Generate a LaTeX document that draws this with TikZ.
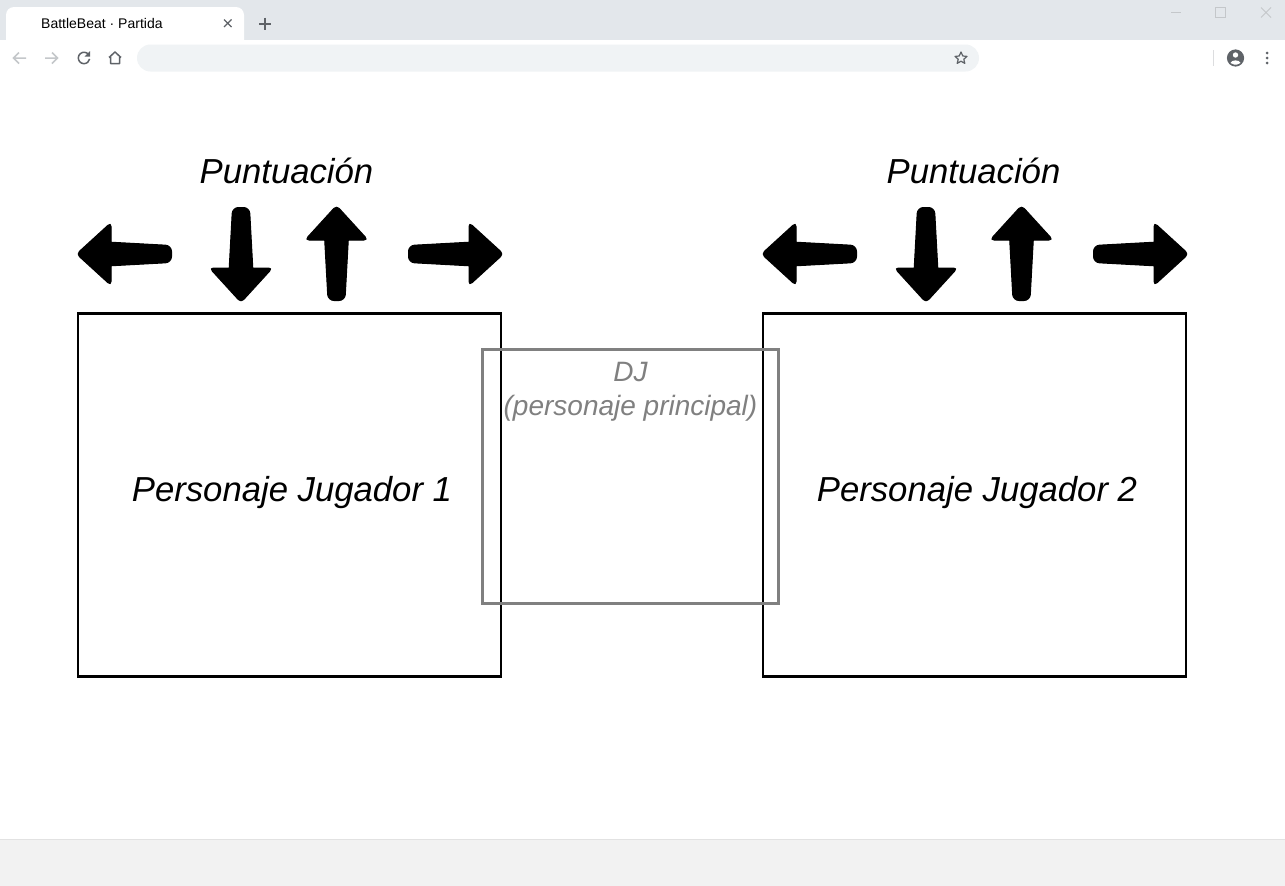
\documentclass[tikz,border=0pt]{standalone}
\usepackage{fontspec}
\setmainfont{Liberation Sans}
\definecolor{chromebg}{HTML}{E3E7EB}
\definecolor{addrbg}{HTML}{F0F3F5}
\definecolor{iconc}{HTML}{5F6368}
\definecolor{iconl}{HTML}{C4C7CA}
\definecolor{statusbg}{HTML}{F2F2F2}
\definecolor{statusln}{HTML}{E2E2E2}
\definecolor{djgray}{HTML}{808080}
\tikzset{
  playerbox/.style={draw=black,line width=2.7pt,fill=none,minimum width=423pt,minimum height=363pt,inner sep=0pt,outer sep=0pt},
  djbox/.style={draw=djgray,line width=2.3pt,fill=none,minimum width=296pt,minimum height=254pt,inner sep=0pt,outer sep=0pt},
  biglabel/.style={font=\fontsize{34.7}{40}\selectfont\itshape,text=black,inner sep=0pt},
  djlabel/.style={font=\fontsize{28}{34}\selectfont\itshape,text=djgray,inner sep=0pt,align=center},
  icon/.style={draw=iconc,line width=1.5pt,fill=none},
  iconlight/.style={draw=iconl,line width=1.5pt,fill=none},
  beatarrow/.pic={
    \fill[black,draw=black,line width=1pt,rounded corners=4pt]
      (-1.5,0) -- (33,-31.5) -- (33,31.5) -- cycle;
    \fill[black,draw=black,line width=1pt,rounded corners=6pt]
      (20,-12.5) -- (93.5,-8.5) -- (93.5,8.5) -- (20,12.5) -- cycle;
  }
}
\begin{document}
\begin{tikzpicture}[x=1pt,y=-1pt]
\useasboundingbox (0,0) rectangle (1285,886);
\fill[white] (0,0) rectangle (1285,886);
% browser frame
\fill[chromebg] (0,0) rectangle (1285,40);
\fill[white,rounded corners=8pt] (6,7) -- (244,7) -- (244,48) -- (6,48) -- cycle;
\fill[white] (0,40) rectangle (1285,74);
\fill[addrbg,rounded corners=13.5pt] (137,44.5) rectangle (979,71.5);
\fill[statusbg] (0,839) rectangle (1285,886);
\draw[statusln,line width=1pt] (0,839) -- (1285,839);
\node[font=\fontsize{14}{16}\selectfont,anchor=west,inner sep=0pt,text=black] (tabtitle) at (41,23.5) {BattleBeat · Partida};
% tab close and new tab
\draw[icon,line width=1.2pt] (224,19.5) -- (231.5,27) (231.5,19.5) -- (224,27);
\draw[icon,line width=2pt] (265,17.5) -- (265,29.5) (259,23.5) -- (271,23.5);
% window buttons
\draw[draw=iconl,line width=1pt] (1171,12.5) -- (1181,12.5);
\draw[draw=iconl,line width=1pt] (1215.5,7.5) rectangle (1225.5,17.5);
\draw[draw=iconl,line width=1pt] (1261,7.5) -- (1271,17.5) (1271,7.5) -- (1261,17.5);
% toolbar icons
\draw[iconlight] (26,58) -- (14,58) (19,52.5) -- (13.5,58) -- (19,63.5);
\draw[iconlight] (45,58) -- (57,58) (52,52.5) -- (57.5,58) -- (52,63.5);
\draw[icon] (88.4,54.3) arc (-40:-350:5.7);
\fill[iconc] (90,51) -- (90,56.5) -- (84.5,56.5) -- cycle;
\draw[icon,line join=round] (109,57.5) -- (115,52) -- (121,57.5) (110.5,56.5) -- (110.5,63.5) -- (119.5,63.5) -- (119.5,56.5);
\draw[icon,line width=1.2pt,line join=round] (961,52) -- (962.8,56) -- (967,56.4) -- (963.8,59.2) -- (964.8,63.4) -- (961,61.2) -- (957.2,63.4) -- (958.2,59.2) -- (955,56.4) -- (959.2,56) -- cycle;
\draw[draw=iconl!60,line width=1pt] (1213.5,50) -- (1213.5,66);
\fill[iconc] (1235.5,58) circle (8.6pt);
\fill[white] (1235.5,55) circle (2.7pt);
\fill[white] (1230.5,63) .. controls (1231.5,59.5) and (1239.5,59.5) .. (1240.5,63) -- (1237,64.5) -- (1234,64.5) -- cycle;
\fill[iconc] (1267,53) circle (1.5pt) (1267,58) circle (1.5pt) (1267,63) circle (1.5pt);
% player 1
\node[playerbox] (p1) at (289.5,495) {};
\node[biglabel] (p1label) at (292,493) {Personaje Jugador 1};
\node[biglabel] (score1) at (286.5,171) {Puntuación};
\pic at (78,254) {beatarrow};
\pic[rotate=90] at (241,301) {beatarrow};
\pic[rotate=-90] at (336.5,207) {beatarrow};
\pic[rotate=180] at (502,254) {beatarrow};
% player 2
\node[playerbox] (p2) at (974.5,495) {};
\node[biglabel] (p2label) at (977,493) {Personaje Jugador 2};
\node[biglabel] (score2) at (973.5,171) {Puntuación};
\pic at (763,254) {beatarrow};
\pic[rotate=90] at (926,301) {beatarrow};
\pic[rotate=-90] at (1021.5,207) {beatarrow};
\pic[rotate=180] at (1187,254) {beatarrow};
% dj
\node[djbox] (dj) at (630.5,476.5) {};
\node[djlabel,anchor=north] (djlabel) at (630.5,362) {DJ\\(personaje principal)};
\end{tikzpicture}
\end{document}
